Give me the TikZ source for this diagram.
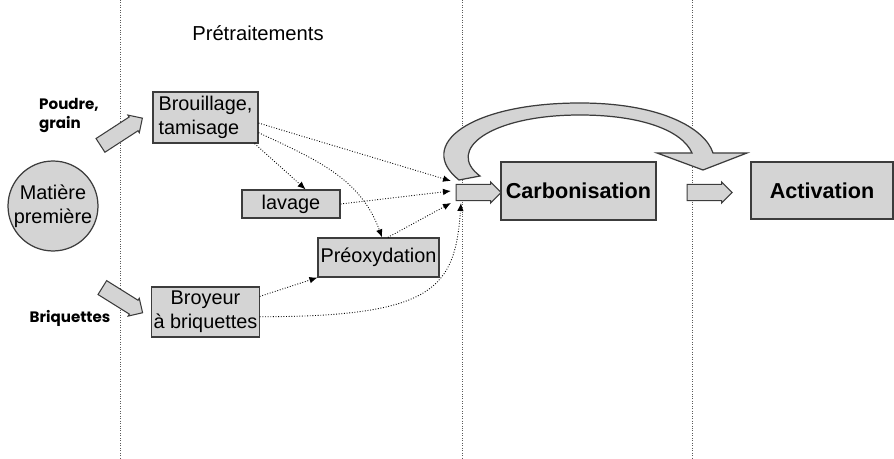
\documentclass[tikz,border=0pt]{standalone}
\usepackage{fontspec}
\setmainfont{Liberation Sans}
\newfontfamily\gothicfont{Poppins}
\usetikzlibrary{arrows.meta,shapes.arrows}
\definecolor{boxgray}{RGB}{212,212,212}
\definecolor{edgegray}{RGB}{60,60,60}
\definecolor{sepgray}{RGB}{90,90,90}

\begin{document}
\begin{tikzpicture}[
    x=0.02cm, y=-0.02cm,
    procbox/.style={rectangle,draw=edgegray,fill=boxgray,line width=0.7pt,
      inner sep=1pt,align=center,font=\fontsize{11.3}{13.5}\selectfont},
    bigbox/.style={procbox,font=\fontsize{12.3}{14}\selectfont\bfseries},
    blockarrow/.style={single arrow,draw=edgegray,fill=boxgray,line width=0.6pt,
      inner sep=0.13cm,minimum width=0.42cm,single arrow head extend=0.04cm},
    link/.style={densely dotted,line width=0.5pt,-{Latex[length=1.6mm,width=1.3mm]}},
    sep/.style={densely dotted,draw=sepgray,line width=0.4pt},
    side/.style={font=\gothicfont\bfseries\fontsize{8.6}{11}\selectfont,align=left}
  ]
    \useasboundingbox (0,0) rectangle (894,459);

    \draw[sep] (120,0) -- (120,459);
    \draw[sep] (462,0) -- (462,459);
    \draw[sep] (692,0) -- (692,459);

    \node[font=\fontsize{11.5}{13}\selectfont] (pretr) at (258,33) {Prétraitements};

    \node[side,anchor=north west] (poudre) at (33,92) {Poudre,\\grain};
    \node[side] (briq) at (70,318) {Briquettes};
    \node[procbox,circle,minimum size=1.8cm,inner sep=0pt] (mat) at (53,206) {Matière\\première};

    \node[blockarrow,minimum height=1.0cm,rotate=33] (inpoudre) at (118,134) {};
    \node[blockarrow,minimum height=0.95cm,rotate=-32] (inbriq) at (119,298) {};

    \node[procbox,minimum width=2.1cm,minimum height=1.02cm,align=left] (brou) at (205.5,117.5) {Brouillage,\\tamisage};
    \node[procbox,minimum width=2.1cm,minimum height=1.0cm] (broy) at (205.5,312) {Broyeur\\à briquettes};
    \node[procbox,minimum width=1.96cm,minimum height=0.56cm] (lav) at (291,204) {lavage};
    \node[procbox,minimum width=2.42cm,minimum height=0.78cm] (preox) at (378.5,257.5) {Préoxydation};
    \node[bigbox,minimum width=3.1cm,minimum height=1.16cm] (carb) at (578.5,191) {Carbonisation};
    \node[bigbox,minimum width=2.84cm,minimum height=1.14cm] (act) at (822,190.5) {Activation};

    \node[blockarrow,minimum height=0.9cm] (carbin) at (474.5,192.5) {};
    \node[blockarrow,minimum height=0.9cm] (carbout) at (705.5,192.5) {};

    \coordinate (tipa) at (451,181);
    \coordinate (tipb) at (451,191);
    \coordinate (tipc) at (451,203);
    \coordinate (tipd) at (461,203);

    \draw[link] (brou.-6) -- (tipa);
    \draw[link] (brou.-16) to[out=-25,in=110] (preox.80);
    \draw[link] (brou.-28) -- (lav.45);
    \draw[link] (lav.east) -- (tipb);
    \draw[link] (preox.65) -- (tipc);
    \draw[link] (broy.16) -- (preox.south west);
    \draw[link] (broy.-5) .. controls +(175,0) and +(-6,85) .. (tipd);

    \draw[draw=edgegray,fill=boxgray,line width=0.7pt]
      (459,180) .. controls (415,145) and (470,103) .. (580,103)
      .. controls (660,103) and (705,128) .. (713,153)
      -- (747,153) -- (703,170) -- (657,153) -- (692,153)
      .. controls (682,130) and (640,115) .. (580,115)
      .. controls (490,115) and (445,150) .. (480,176) -- cycle;
  \end{tikzpicture}
\end{document}
